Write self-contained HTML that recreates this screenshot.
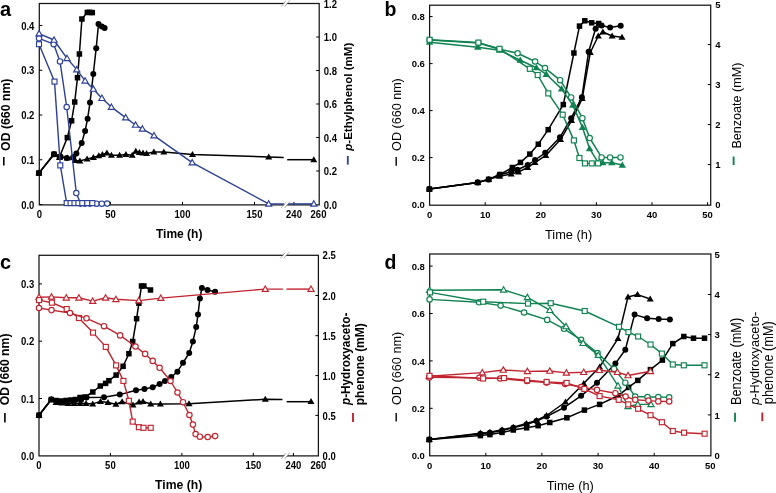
<!DOCTYPE html>
<html><head><meta charset="utf-8"><style>
html,body{margin:0;padding:0;background:#fff;width:776px;height:493px;overflow:hidden}
svg{display:block;will-change:transform}
text{font-family:"Liberation Sans",sans-serif}
</style></head><body>
<svg width="776" height="493" viewBox="0 0 776 493" font-family="Liberation Sans, sans-serif">
<rect width="776" height="493" fill="#fff"/>
<rect x="39.3" y="3.5" width="279.9" height="201.4" fill="none" stroke="#151515" stroke-width="1.25"/>
<line x1="39.3" y1="204.5" x2="42.3" y2="204.5" stroke="#000" stroke-width="1"/>
<line x1="39.3" y1="159.75" x2="42.3" y2="159.75" stroke="#000" stroke-width="1"/>
<line x1="39.3" y1="115" x2="42.3" y2="115" stroke="#000" stroke-width="1"/>
<line x1="39.3" y1="70.25" x2="42.3" y2="70.25" stroke="#000" stroke-width="1"/>
<line x1="39.3" y1="25.5" x2="42.3" y2="25.5" stroke="#000" stroke-width="1"/>
<line x1="316.2" y1="171" x2="319.2" y2="171" stroke="#000" stroke-width="1"/>
<line x1="316.2" y1="137.5" x2="319.2" y2="137.5" stroke="#000" stroke-width="1"/>
<line x1="316.2" y1="104" x2="319.2" y2="104" stroke="#000" stroke-width="1"/>
<line x1="316.2" y1="70.5" x2="319.2" y2="70.5" stroke="#000" stroke-width="1"/>
<line x1="316.2" y1="37" x2="319.2" y2="37" stroke="#000" stroke-width="1"/>
<line x1="110.5" y1="201.9" x2="110.5" y2="204.9" stroke="#000" stroke-width="1"/>
<line x1="182.5" y1="201.9" x2="182.5" y2="204.9" stroke="#000" stroke-width="1"/>
<line x1="254.5" y1="201.9" x2="254.5" y2="204.9" stroke="#000" stroke-width="1"/>
<line x1="294" y1="201.9" x2="294" y2="204.9" stroke="#000" stroke-width="1"/>
<polyline points="38.9,173.1 54,154.2 59.5,157.5 67.2,158 75.3,160.5 79.9,161 87.1,158.9 93.4,157.4 98.8,155.8 102.4,154.4 106.9,152.9 111.4,155.3 119.6,155.3 125.9,154.4 132.2,155.3 135.8,151.3 139.4,152.6 143,152.9 146.6,153.5 153.9,152 163.8,152 192.5,154.5 268.7,157 283.7,157.5" fill="none" stroke="#000" stroke-width="1.5" stroke-linejoin="round"/>
<polyline points="287.2,159.7 313.8,159.7" fill="none" stroke="#000" stroke-width="1.5" stroke-linejoin="round"/>
<polygon points="38.9,169.62 42.4,175.62 35.4,175.62" fill="#000"/>
<polygon points="54,150.72 57.5,156.72 50.5,156.72" fill="#000"/>
<polygon points="59.5,154.02 63,160.02 56,160.02" fill="#000"/>
<polygon points="67.2,154.52 70.7,160.52 63.7,160.52" fill="#000"/>
<polygon points="75.3,157.02 78.8,163.02 71.8,163.02" fill="#000"/>
<polygon points="79.9,157.52 83.4,163.52 76.4,163.52" fill="#000"/>
<polygon points="87.1,155.42 90.6,161.42 83.6,161.42" fill="#000"/>
<polygon points="93.4,153.92 96.9,159.92 89.9,159.92" fill="#000"/>
<polygon points="98.8,152.32 102.3,158.32 95.3,158.32" fill="#000"/>
<polygon points="102.4,150.92 105.9,156.92 98.9,156.92" fill="#000"/>
<polygon points="106.9,149.42 110.4,155.42 103.4,155.42" fill="#000"/>
<polygon points="111.4,151.82 114.9,157.82 107.9,157.82" fill="#000"/>
<polygon points="119.6,151.82 123.1,157.82 116.1,157.82" fill="#000"/>
<polygon points="125.9,150.92 129.4,156.92 122.4,156.92" fill="#000"/>
<polygon points="132.2,151.82 135.7,157.82 128.7,157.82" fill="#000"/>
<polygon points="135.8,147.82 139.3,153.82 132.3,153.82" fill="#000"/>
<polygon points="139.4,149.12 142.9,155.12 135.9,155.12" fill="#000"/>
<polygon points="143,149.42 146.5,155.42 139.5,155.42" fill="#000"/>
<polygon points="146.6,150.02 150.1,156.02 143.1,156.02" fill="#000"/>
<polygon points="153.9,148.52 157.4,154.52 150.4,154.52" fill="#000"/>
<polygon points="163.8,148.52 167.3,154.52 160.3,154.52" fill="#000"/>
<polygon points="192.5,151.02 196,157.02 189,157.02" fill="#000"/>
<polygon points="268.7,153.52 272.2,159.52 265.2,159.52" fill="#000"/>
<polygon points="313.8,156.22 317.3,162.22 310.3,162.22" fill="#000"/>
<polyline points="38.9,173.1 54,154.2 60.5,156.5 66.8,158 73.3,157 76.4,153.6 81.7,142.9 85.1,131 87.6,118.7 90,102.6 93.3,74 96.2,48.2 98.5,24 101.9,26.5 104.6,27.9" fill="none" stroke="#000" stroke-width="1.5" stroke-linejoin="round"/>
<circle cx="38.9" cy="173.1" r="3" fill="#000"/>
<circle cx="54" cy="154.2" r="3" fill="#000"/>
<circle cx="60.5" cy="156.5" r="3" fill="#000"/>
<circle cx="66.8" cy="158" r="3" fill="#000"/>
<circle cx="73.3" cy="157" r="3" fill="#000"/>
<circle cx="76.4" cy="153.6" r="3" fill="#000"/>
<circle cx="81.7" cy="142.9" r="3" fill="#000"/>
<circle cx="85.1" cy="131" r="3" fill="#000"/>
<circle cx="87.6" cy="118.7" r="3" fill="#000"/>
<circle cx="90" cy="102.6" r="3" fill="#000"/>
<circle cx="93.3" cy="74" r="3" fill="#000"/>
<circle cx="96.2" cy="48.2" r="3" fill="#000"/>
<circle cx="98.5" cy="24" r="3" fill="#000"/>
<circle cx="101.9" cy="26.5" r="3" fill="#000"/>
<circle cx="104.6" cy="27.9" r="3" fill="#000"/>
<polyline points="38.9,173.1 54,154.2 59.5,157 67.3,137.6 71.6,120.8 74.7,102 77.5,77.7 79.4,54 81.9,19 87.3,12.4 89.8,12.4 92.3,12.6" fill="none" stroke="#000" stroke-width="1.5" stroke-linejoin="round"/>
<rect x="36.15" y="170.35" width="5.5" height="5.5" fill="#000"/>
<rect x="51.25" y="151.45" width="5.5" height="5.5" fill="#000"/>
<rect x="56.75" y="154.25" width="5.5" height="5.5" fill="#000"/>
<rect x="64.55" y="134.85" width="5.5" height="5.5" fill="#000"/>
<rect x="68.85" y="118.05" width="5.5" height="5.5" fill="#000"/>
<rect x="71.95" y="99.25" width="5.5" height="5.5" fill="#000"/>
<rect x="74.75" y="74.95" width="5.5" height="5.5" fill="#000"/>
<rect x="76.65" y="51.25" width="5.5" height="5.5" fill="#000"/>
<rect x="79.15" y="16.25" width="5.5" height="5.5" fill="#000"/>
<rect x="84.55" y="9.65" width="5.5" height="5.5" fill="#000"/>
<rect x="87.05" y="9.65" width="5.5" height="5.5" fill="#000"/>
<rect x="89.55" y="9.85" width="5.5" height="5.5" fill="#000"/>
<polyline points="39,38.3 53.7,44.2 60,61.4 66.7,107 76.3,193 80.5,203.6 85,203.6 90,203.6 96.5,203.7 101.8,203.7 107.2,203.6" fill="none" stroke="#2c4098" stroke-width="1.4" stroke-linejoin="round"/>
<circle cx="39" cy="38.3" r="2.7" fill="#fff" stroke="#2c4098" stroke-width="1.15"/>
<circle cx="53.7" cy="44.2" r="2.7" fill="#fff" stroke="#2c4098" stroke-width="1.15"/>
<circle cx="60" cy="61.4" r="2.7" fill="#fff" stroke="#2c4098" stroke-width="1.15"/>
<circle cx="66.7" cy="107" r="2.7" fill="#fff" stroke="#2c4098" stroke-width="1.15"/>
<circle cx="76.3" cy="193" r="2.7" fill="#fff" stroke="#2c4098" stroke-width="1.15"/>
<circle cx="80.5" cy="203.6" r="2.7" fill="#fff" stroke="#2c4098" stroke-width="1.15"/>
<circle cx="85" cy="203.6" r="2.7" fill="#fff" stroke="#2c4098" stroke-width="1.15"/>
<circle cx="90" cy="203.6" r="2.7" fill="#fff" stroke="#2c4098" stroke-width="1.15"/>
<circle cx="96.5" cy="203.7" r="2.7" fill="#fff" stroke="#2c4098" stroke-width="1.15"/>
<circle cx="101.8" cy="203.7" r="2.7" fill="#fff" stroke="#2c4098" stroke-width="1.15"/>
<circle cx="107.2" cy="203.6" r="2.7" fill="#fff" stroke="#2c4098" stroke-width="1.15"/>
<polyline points="39,44.2 54.5,81.6 60.3,165.4 66.7,203.1 70.6,203.1 74.5,203.1 78.4,203.1 82.3,203.1 87.3,203.1 92.3,203.1" fill="none" stroke="#2c4098" stroke-width="1.4" stroke-linejoin="round"/>
<rect x="36.5" y="41.7" width="5" height="5" fill="#fff" stroke="#2c4098" stroke-width="1.15"/>
<rect x="52" y="79.1" width="5" height="5" fill="#fff" stroke="#2c4098" stroke-width="1.15"/>
<rect x="57.8" y="162.9" width="5" height="5" fill="#fff" stroke="#2c4098" stroke-width="1.15"/>
<rect x="64.2" y="200.6" width="5" height="5" fill="#fff" stroke="#2c4098" stroke-width="1.15"/>
<rect x="68.1" y="200.6" width="5" height="5" fill="#fff" stroke="#2c4098" stroke-width="1.15"/>
<rect x="72" y="200.6" width="5" height="5" fill="#fff" stroke="#2c4098" stroke-width="1.15"/>
<rect x="75.9" y="200.6" width="5" height="5" fill="#fff" stroke="#2c4098" stroke-width="1.15"/>
<rect x="79.8" y="200.6" width="5" height="5" fill="#fff" stroke="#2c4098" stroke-width="1.15"/>
<rect x="84.8" y="200.6" width="5" height="5" fill="#fff" stroke="#2c4098" stroke-width="1.15"/>
<rect x="89.8" y="200.6" width="5" height="5" fill="#fff" stroke="#2c4098" stroke-width="1.15"/>
<polyline points="39.1,33.6 54,40 67,58.3 76.8,69.6 85.1,80.8 93.3,89 101.9,98.2 111.4,107.1 125.7,117.6 135.5,125 142.4,128.9 154,135.6 192.2,162.6 268.7,203.9 283.9,203.9" fill="none" stroke="#2c4098" stroke-width="1.4" stroke-linejoin="round"/>
<polyline points="287.5,203.9 313.8,203.9" fill="none" stroke="#2c4098" stroke-width="1.4" stroke-linejoin="round"/>
<polygon points="39.1,30.47 42.2,35.87 36,35.87" fill="#fff" stroke="#2c4098" stroke-width="1.15" stroke-linejoin="miter"/>
<polygon points="54,36.87 57.1,42.27 50.9,42.27" fill="#fff" stroke="#2c4098" stroke-width="1.15" stroke-linejoin="miter"/>
<polygon points="67,55.17 70.1,60.57 63.9,60.57" fill="#fff" stroke="#2c4098" stroke-width="1.15" stroke-linejoin="miter"/>
<polygon points="76.8,66.47 79.9,71.87 73.7,71.87" fill="#fff" stroke="#2c4098" stroke-width="1.15" stroke-linejoin="miter"/>
<polygon points="85.1,77.67 88.2,83.07 82,83.07" fill="#fff" stroke="#2c4098" stroke-width="1.15" stroke-linejoin="miter"/>
<polygon points="93.3,85.87 96.4,91.27 90.2,91.27" fill="#fff" stroke="#2c4098" stroke-width="1.15" stroke-linejoin="miter"/>
<polygon points="101.9,95.07 105,100.47 98.8,100.47" fill="#fff" stroke="#2c4098" stroke-width="1.15" stroke-linejoin="miter"/>
<polygon points="111.4,103.97 114.5,109.37 108.3,109.37" fill="#fff" stroke="#2c4098" stroke-width="1.15" stroke-linejoin="miter"/>
<polygon points="125.7,114.47 128.8,119.87 122.6,119.87" fill="#fff" stroke="#2c4098" stroke-width="1.15" stroke-linejoin="miter"/>
<polygon points="135.5,121.87 138.6,127.27 132.4,127.27" fill="#fff" stroke="#2c4098" stroke-width="1.15" stroke-linejoin="miter"/>
<polygon points="142.4,125.77 145.5,131.17 139.3,131.17" fill="#fff" stroke="#2c4098" stroke-width="1.15" stroke-linejoin="miter"/>
<polygon points="154,132.47 157.1,137.87 150.9,137.87" fill="#fff" stroke="#2c4098" stroke-width="1.15" stroke-linejoin="miter"/>
<polygon points="192.2,159.47 195.3,164.87 189.1,164.87" fill="#fff" stroke="#2c4098" stroke-width="1.15" stroke-linejoin="miter"/>
<polygon points="268.7,200.77 271.8,206.17 265.6,206.17" fill="#fff" stroke="#2c4098" stroke-width="1.15" stroke-linejoin="miter"/>
<polygon points="313.8,200.77 316.9,206.17 310.7,206.17" fill="#fff" stroke="#2c4098" stroke-width="1.15" stroke-linejoin="miter"/>
<polygon points="282.1,6 286.1,1 288.9,1 284.9,6" fill="#fff"/>
<line x1="281.1" y1="6.5" x2="285.9" y2="0.9" stroke="#888" stroke-width="0.7"/>
<line x1="284.7" y1="6.5" x2="289.9" y2="0.3" stroke="#888" stroke-width="0.7"/>
<polygon points="282.1,207.4 286.1,202.4 288.9,202.4 284.9,207.4" fill="#fff"/>
<line x1="281.1" y1="207.9" x2="285.9" y2="202.3" stroke="#888" stroke-width="0.7"/>
<line x1="284.7" y1="207.9" x2="289.9" y2="201.7" stroke="#888" stroke-width="0.7"/>
<rect x="429.6" y="5.2" width="281.1" height="200" fill="none" stroke="#151515" stroke-width="1.25"/>
<line x1="429.6" y1="157.6" x2="432.6" y2="157.6" stroke="#000" stroke-width="1"/>
<line x1="429.6" y1="110.6" x2="432.6" y2="110.6" stroke="#000" stroke-width="1"/>
<line x1="429.6" y1="63.6" x2="432.6" y2="63.6" stroke="#000" stroke-width="1"/>
<line x1="429.6" y1="16.6" x2="432.6" y2="16.6" stroke="#000" stroke-width="1"/>
<line x1="707.7" y1="164.6" x2="710.7" y2="164.6" stroke="#000" stroke-width="1"/>
<line x1="707.7" y1="124.6" x2="710.7" y2="124.6" stroke="#000" stroke-width="1"/>
<line x1="707.7" y1="84.6" x2="710.7" y2="84.6" stroke="#000" stroke-width="1"/>
<line x1="707.7" y1="44.6" x2="710.7" y2="44.6" stroke="#000" stroke-width="1"/>
<line x1="485.2" y1="202.2" x2="485.2" y2="205.2" stroke="#000" stroke-width="1"/>
<line x1="540.8" y1="202.2" x2="540.8" y2="205.2" stroke="#000" stroke-width="1"/>
<line x1="596.4" y1="202.2" x2="596.4" y2="205.2" stroke="#000" stroke-width="1"/>
<line x1="652" y1="202.2" x2="652" y2="205.2" stroke="#000" stroke-width="1"/>
<line x1="707.6" y1="202.2" x2="707.6" y2="205.2" stroke="#000" stroke-width="1"/>
<polyline points="429.4,189.1 477.7,182.5 488.6,179.4 499.5,176.3 511.2,174 518.5,172 527.7,167.4 535,162.6 545.8,155.4 560.5,139.6 571.6,120.6 582.2,98.6 590.3,52.5 598.3,36 602.9,32 612.1,36 622,37.3" fill="none" stroke="#000" stroke-width="1.5" stroke-linejoin="round"/>
<polygon points="429.4,185.62 432.9,191.62 425.9,191.62" fill="#000"/>
<polygon points="477.7,179.02 481.2,185.02 474.2,185.02" fill="#000"/>
<polygon points="488.6,175.92 492.1,181.92 485.1,181.92" fill="#000"/>
<polygon points="499.5,172.82 503,178.82 496,178.82" fill="#000"/>
<polygon points="511.2,170.52 514.7,176.52 507.7,176.52" fill="#000"/>
<polygon points="518.5,168.52 522,174.52 515,174.52" fill="#000"/>
<polygon points="527.7,163.92 531.2,169.92 524.2,169.92" fill="#000"/>
<polygon points="535,159.12 538.5,165.12 531.5,165.12" fill="#000"/>
<polygon points="545.8,151.92 549.3,157.92 542.3,157.92" fill="#000"/>
<polygon points="560.5,136.12 564,142.12 557,142.12" fill="#000"/>
<polygon points="571.6,117.12 575.1,123.12 568.1,123.12" fill="#000"/>
<polygon points="582.2,95.12 585.7,101.12 578.7,101.12" fill="#000"/>
<polygon points="590.3,49.02 593.8,55.02 586.8,55.02" fill="#000"/>
<polygon points="598.3,32.52 601.8,38.52 594.8,38.52" fill="#000"/>
<polygon points="602.9,28.52 606.4,34.52 599.4,34.52" fill="#000"/>
<polygon points="612.1,32.52 615.6,38.52 608.6,38.52" fill="#000"/>
<polygon points="622,33.82 625.5,39.82 618.5,39.82" fill="#000"/>
<polyline points="429.4,189.1 477.7,182.5 488.6,179.4 499.5,174.8 511.2,171.8 517.4,169.8 527.7,165 535,160 545.2,152.8 560,137.2 571.2,118.2 581.9,97.2 588.6,51.8 595.6,28.7 601.6,25.4 610.1,27.4 620.7,25.8" fill="none" stroke="#000" stroke-width="1.5" stroke-linejoin="round"/>
<circle cx="429.4" cy="189.1" r="3" fill="#000"/>
<circle cx="477.7" cy="182.5" r="3" fill="#000"/>
<circle cx="488.6" cy="179.4" r="3" fill="#000"/>
<circle cx="499.5" cy="174.8" r="3" fill="#000"/>
<circle cx="511.2" cy="171.8" r="3" fill="#000"/>
<circle cx="517.4" cy="169.8" r="3" fill="#000"/>
<circle cx="527.7" cy="165" r="3" fill="#000"/>
<circle cx="535" cy="160" r="3" fill="#000"/>
<circle cx="545.2" cy="152.8" r="3" fill="#000"/>
<circle cx="560" cy="137.2" r="3" fill="#000"/>
<circle cx="571.2" cy="118.2" r="3" fill="#000"/>
<circle cx="581.9" cy="97.2" r="3" fill="#000"/>
<circle cx="588.6" cy="51.8" r="3" fill="#000"/>
<circle cx="595.6" cy="28.7" r="3" fill="#000"/>
<circle cx="601.6" cy="25.4" r="3" fill="#000"/>
<circle cx="610.1" cy="27.4" r="3" fill="#000"/>
<circle cx="620.7" cy="25.8" r="3" fill="#000"/>
<polyline points="429.4,189.1 477.7,182.5 488.6,179.4 500,174.5 512.3,167.5 520.5,162.4 529.8,154.1 538.3,144.2 548.2,129.7 563.3,104.6 573.9,53 579.5,26.1 584.8,20.8 591.7,22.8 598.7,23.5" fill="none" stroke="#000" stroke-width="1.5" stroke-linejoin="round"/>
<rect x="426.65" y="186.35" width="5.5" height="5.5" fill="#000"/>
<rect x="474.95" y="179.75" width="5.5" height="5.5" fill="#000"/>
<rect x="485.85" y="176.65" width="5.5" height="5.5" fill="#000"/>
<rect x="497.25" y="171.75" width="5.5" height="5.5" fill="#000"/>
<rect x="509.55" y="164.75" width="5.5" height="5.5" fill="#000"/>
<rect x="517.75" y="159.65" width="5.5" height="5.5" fill="#000"/>
<rect x="527.05" y="151.35" width="5.5" height="5.5" fill="#000"/>
<rect x="535.55" y="141.45" width="5.5" height="5.5" fill="#000"/>
<rect x="545.45" y="126.95" width="5.5" height="5.5" fill="#000"/>
<rect x="560.55" y="101.85" width="5.5" height="5.5" fill="#000"/>
<rect x="571.15" y="50.25" width="5.5" height="5.5" fill="#000"/>
<rect x="576.75" y="23.35" width="5.5" height="5.5" fill="#000"/>
<rect x="582.05" y="18.05" width="5.5" height="5.5" fill="#000"/>
<rect x="588.95" y="20.05" width="5.5" height="5.5" fill="#000"/>
<rect x="595.95" y="20.75" width="5.5" height="5.5" fill="#000"/>
<polyline points="429.6,40 478.4,43 499.5,49.2 517.6,53.3 535.1,61.5 545,68.1 560.1,80.2 571.1,97.4 582.4,118.2 589.7,138 601.6,157.4 610.1,157.4 620.5,157.4" fill="none" stroke="#0e8250" stroke-width="1.5" stroke-linejoin="round"/>
<circle cx="429.6" cy="40" r="2.7" fill="#fff" stroke="#0e8250" stroke-width="1.15"/>
<circle cx="478.4" cy="43" r="2.7" fill="#fff" stroke="#0e8250" stroke-width="1.15"/>
<circle cx="499.5" cy="49.2" r="2.7" fill="#fff" stroke="#0e8250" stroke-width="1.15"/>
<circle cx="517.6" cy="53.3" r="2.7" fill="#fff" stroke="#0e8250" stroke-width="1.15"/>
<circle cx="535.1" cy="61.5" r="2.7" fill="#fff" stroke="#0e8250" stroke-width="1.15"/>
<circle cx="545" cy="68.1" r="2.7" fill="#fff" stroke="#0e8250" stroke-width="1.15"/>
<circle cx="560.1" cy="80.2" r="2.7" fill="#fff" stroke="#0e8250" stroke-width="1.15"/>
<circle cx="571.1" cy="97.4" r="2.7" fill="#fff" stroke="#0e8250" stroke-width="1.15"/>
<circle cx="582.4" cy="118.2" r="2.7" fill="#fff" stroke="#0e8250" stroke-width="1.15"/>
<circle cx="589.7" cy="138" r="2.7" fill="#fff" stroke="#0e8250" stroke-width="1.15"/>
<circle cx="601.6" cy="157.4" r="2.7" fill="#fff" stroke="#0e8250" stroke-width="1.15"/>
<circle cx="610.1" cy="157.4" r="2.7" fill="#fff" stroke="#0e8250" stroke-width="1.15"/>
<circle cx="620.5" cy="157.4" r="2.7" fill="#fff" stroke="#0e8250" stroke-width="1.15"/>
<polyline points="429.6,42.2 477.8,47.2 499.5,50.2 520.3,60.2 536.4,67.7 546.3,74.3 561.6,88.9 572.8,105.1 582.5,127.4 589.6,148.6 598.4,162.8 602.7,162.7 611.8,162.7 622.3,165.1" fill="none" stroke="#0e8250" stroke-width="1.5" stroke-linejoin="round"/>
<polygon points="429.6,38.51 433.31,44.87 425.89,44.87" fill="#0e8250"/>
<polygon points="477.8,43.51 481.51,49.87 474.09,49.87" fill="#0e8250"/>
<polygon points="499.5,46.51 503.21,52.87 495.79,52.87" fill="#0e8250"/>
<polygon points="520.3,56.51 524.01,62.87 516.59,62.87" fill="#0e8250"/>
<polygon points="536.4,64.01 540.11,70.37 532.69,70.37" fill="#0e8250"/>
<polygon points="546.3,70.61 550.01,76.97 542.59,76.97" fill="#0e8250"/>
<polygon points="561.6,85.21 565.31,91.57 557.89,91.57" fill="#0e8250"/>
<polygon points="572.8,101.41 576.51,107.77 569.09,107.77" fill="#0e8250"/>
<polygon points="582.5,123.71 586.21,130.07 578.79,130.07" fill="#0e8250"/>
<polygon points="589.6,144.91 593.31,151.27 585.89,151.27" fill="#0e8250"/>
<polygon points="598.4,159.11 602.11,165.47 594.69,165.47" fill="#0e8250"/>
<polygon points="602.7,159.01 606.41,165.37 598.99,165.37" fill="#0e8250"/>
<polygon points="611.8,159.01 615.51,165.37 608.09,165.37" fill="#0e8250"/>
<polygon points="622.3,161.41 626.01,167.77 618.59,167.77" fill="#0e8250"/>
<polyline points="429.6,39.8 478.4,42.6 499.5,48.8 529.8,68.8 537.7,75 548.3,93.4 562.7,114.7 573.9,140.4 579.4,158 584.9,163.4 591.7,163.4 598,163.4" fill="none" stroke="#0e8250" stroke-width="1.5" stroke-linejoin="round"/>
<rect x="427.1" y="37.3" width="5" height="5" fill="#fff" stroke="#0e8250" stroke-width="1.15"/>
<rect x="475.9" y="40.1" width="5" height="5" fill="#fff" stroke="#0e8250" stroke-width="1.15"/>
<rect x="497" y="46.3" width="5" height="5" fill="#fff" stroke="#0e8250" stroke-width="1.15"/>
<rect x="527.3" y="66.3" width="5" height="5" fill="#fff" stroke="#0e8250" stroke-width="1.15"/>
<rect x="535.2" y="72.5" width="5" height="5" fill="#fff" stroke="#0e8250" stroke-width="1.15"/>
<rect x="545.8" y="90.9" width="5" height="5" fill="#fff" stroke="#0e8250" stroke-width="1.15"/>
<rect x="560.2" y="112.2" width="5" height="5" fill="#fff" stroke="#0e8250" stroke-width="1.15"/>
<rect x="571.4" y="137.9" width="5" height="5" fill="#fff" stroke="#0e8250" stroke-width="1.15"/>
<rect x="576.9" y="155.5" width="5" height="5" fill="#fff" stroke="#0e8250" stroke-width="1.15"/>
<rect x="582.4" y="160.9" width="5" height="5" fill="#fff" stroke="#0e8250" stroke-width="1.15"/>
<rect x="589.2" y="160.9" width="5" height="5" fill="#fff" stroke="#0e8250" stroke-width="1.15"/>
<rect x="595.5" y="160.9" width="5" height="5" fill="#fff" stroke="#0e8250" stroke-width="1.15"/>
<rect x="39" y="255.3" width="279.4" height="200.6" fill="none" stroke="#151515" stroke-width="1.25"/>
<line x1="39" y1="398.5" x2="42" y2="398.5" stroke="#000" stroke-width="1"/>
<line x1="39" y1="341.2" x2="42" y2="341.2" stroke="#000" stroke-width="1"/>
<line x1="39" y1="283.9" x2="42" y2="283.9" stroke="#000" stroke-width="1"/>
<line x1="315.4" y1="415.4" x2="318.4" y2="415.4" stroke="#000" stroke-width="1"/>
<line x1="315.4" y1="375.6" x2="318.4" y2="375.6" stroke="#000" stroke-width="1"/>
<line x1="315.4" y1="335.7" x2="318.4" y2="335.7" stroke="#000" stroke-width="1"/>
<line x1="315.4" y1="295.5" x2="318.4" y2="295.5" stroke="#000" stroke-width="1"/>
<line x1="110.4" y1="452.9" x2="110.4" y2="455.9" stroke="#000" stroke-width="1"/>
<line x1="181.9" y1="452.9" x2="181.9" y2="455.9" stroke="#000" stroke-width="1"/>
<line x1="253.3" y1="452.9" x2="253.3" y2="455.9" stroke="#000" stroke-width="1"/>
<line x1="293.4" y1="452.9" x2="293.4" y2="455.9" stroke="#000" stroke-width="1"/>
<polyline points="39,415.3 51.3,399.5 56,402.5 62,403 68,403.5 74,403.5 80,403.5 86,403.5 92.7,403.9 100.5,401.4 108,402.6 115.9,404.3 122.1,401.7 133,405 139.1,401.9 143,401.5 150.7,404 160.4,404 189,403.7 265.3,399.3 282.4,399.6" fill="none" stroke="#000" stroke-width="1.5" stroke-linejoin="round"/>
<polyline points="286.6,401.7 311,401.7" fill="none" stroke="#000" stroke-width="1.5" stroke-linejoin="round"/>
<polygon points="39,411.82 42.5,417.82 35.5,417.82" fill="#000"/>
<polygon points="51.3,396.02 54.8,402.02 47.8,402.02" fill="#000"/>
<polygon points="56,399.02 59.5,405.02 52.5,405.02" fill="#000"/>
<polygon points="62,399.52 65.5,405.52 58.5,405.52" fill="#000"/>
<polygon points="68,400.02 71.5,406.02 64.5,406.02" fill="#000"/>
<polygon points="74,400.02 77.5,406.02 70.5,406.02" fill="#000"/>
<polygon points="80,400.02 83.5,406.02 76.5,406.02" fill="#000"/>
<polygon points="86,400.02 89.5,406.02 82.5,406.02" fill="#000"/>
<polygon points="92.7,400.42 96.2,406.42 89.2,406.42" fill="#000"/>
<polygon points="100.5,397.92 104,403.92 97,403.92" fill="#000"/>
<polygon points="108,399.12 111.5,405.12 104.5,405.12" fill="#000"/>
<polygon points="115.9,400.82 119.4,406.82 112.4,406.82" fill="#000"/>
<polygon points="122.1,398.22 125.6,404.22 118.6,404.22" fill="#000"/>
<polygon points="133,401.52 136.5,407.52 129.5,407.52" fill="#000"/>
<polygon points="139.1,398.42 142.6,404.42 135.6,404.42" fill="#000"/>
<polygon points="143,398.02 146.5,404.02 139.5,404.02" fill="#000"/>
<polygon points="150.7,400.52 154.2,406.52 147.2,406.52" fill="#000"/>
<polygon points="160.4,400.52 163.9,406.52 156.9,406.52" fill="#000"/>
<polygon points="189,400.22 192.5,406.22 185.5,406.22" fill="#000"/>
<polygon points="265.3,395.82 268.8,401.82 261.8,401.82" fill="#000"/>
<polygon points="311,398.12 314.5,404.12 307.5,404.12" fill="#000"/>
<polyline points="39,415.3 51.3,399.5 58,401.5 66,401.8 74,401.3 81,400 86.5,397.5 104,397.3 119.8,394.6 136,390.3 144.5,389 152.7,387.3 159.6,384 165,381 171.2,377 177.4,371.7 183,362.8 189.2,353 192.9,341.4 196.2,327.1 198,314.5 199.9,298.5 201.9,288 207.5,290 215.1,291.7" fill="none" stroke="#000" stroke-width="1.5" stroke-linejoin="round"/>
<circle cx="39" cy="415.3" r="3" fill="#000"/>
<circle cx="51.3" cy="399.5" r="3" fill="#000"/>
<circle cx="58" cy="401.5" r="3" fill="#000"/>
<circle cx="66" cy="401.8" r="3" fill="#000"/>
<circle cx="74" cy="401.3" r="3" fill="#000"/>
<circle cx="81" cy="400" r="3" fill="#000"/>
<circle cx="86.5" cy="397.5" r="3" fill="#000"/>
<circle cx="104" cy="397.3" r="3" fill="#000"/>
<circle cx="119.8" cy="394.6" r="3" fill="#000"/>
<circle cx="136" cy="390.3" r="3" fill="#000"/>
<circle cx="144.5" cy="389" r="3" fill="#000"/>
<circle cx="152.7" cy="387.3" r="3" fill="#000"/>
<circle cx="159.6" cy="384" r="3" fill="#000"/>
<circle cx="165" cy="381" r="3" fill="#000"/>
<circle cx="171.2" cy="377" r="3" fill="#000"/>
<circle cx="177.4" cy="371.7" r="3" fill="#000"/>
<circle cx="183" cy="362.8" r="3" fill="#000"/>
<circle cx="189.2" cy="353" r="3" fill="#000"/>
<circle cx="192.9" cy="341.4" r="3" fill="#000"/>
<circle cx="196.2" cy="327.1" r="3" fill="#000"/>
<circle cx="198" cy="314.5" r="3" fill="#000"/>
<circle cx="199.9" cy="298.5" r="3" fill="#000"/>
<circle cx="201.9" cy="288" r="3" fill="#000"/>
<circle cx="207.5" cy="290" r="3" fill="#000"/>
<circle cx="215.1" cy="291.7" r="3" fill="#000"/>
<polyline points="39,415.3 51.3,399.5 56,400.5 61,401 66,400.5 71,400 75.5,399.5 80,397.5 85,397 92.8,392 100.3,386 105.6,383.4 108.9,380.7 116.1,375.1 123.1,366.3 128.9,353.7 132.7,341.5 136.6,318.7 138.9,303.2 141.5,286 143.9,286 150.5,290" fill="none" stroke="#000" stroke-width="1.5" stroke-linejoin="round"/>
<rect x="36.25" y="412.55" width="5.5" height="5.5" fill="#000"/>
<rect x="48.55" y="396.75" width="5.5" height="5.5" fill="#000"/>
<rect x="53.25" y="397.75" width="5.5" height="5.5" fill="#000"/>
<rect x="58.25" y="398.25" width="5.5" height="5.5" fill="#000"/>
<rect x="63.25" y="397.75" width="5.5" height="5.5" fill="#000"/>
<rect x="68.25" y="397.25" width="5.5" height="5.5" fill="#000"/>
<rect x="72.75" y="396.75" width="5.5" height="5.5" fill="#000"/>
<rect x="77.25" y="394.75" width="5.5" height="5.5" fill="#000"/>
<rect x="82.25" y="394.25" width="5.5" height="5.5" fill="#000"/>
<rect x="90.05" y="389.25" width="5.5" height="5.5" fill="#000"/>
<rect x="97.55" y="383.25" width="5.5" height="5.5" fill="#000"/>
<rect x="102.85" y="380.65" width="5.5" height="5.5" fill="#000"/>
<rect x="106.15" y="377.95" width="5.5" height="5.5" fill="#000"/>
<rect x="113.35" y="372.35" width="5.5" height="5.5" fill="#000"/>
<rect x="120.35" y="363.55" width="5.5" height="5.5" fill="#000"/>
<rect x="126.15" y="350.95" width="5.5" height="5.5" fill="#000"/>
<rect x="129.95" y="338.75" width="5.5" height="5.5" fill="#000"/>
<rect x="133.85" y="315.95" width="5.5" height="5.5" fill="#000"/>
<rect x="136.15" y="300.45" width="5.5" height="5.5" fill="#000"/>
<rect x="138.75" y="283.25" width="5.5" height="5.5" fill="#000"/>
<rect x="141.15" y="283.25" width="5.5" height="5.5" fill="#000"/>
<rect x="147.75" y="287.25" width="5.5" height="5.5" fill="#000"/>
<polyline points="39,297.2 51.5,296.9 66.3,297.8 78.9,297.8 92.7,301.1 105.6,297.8 115.9,299.3 138.8,300.6 160.8,298.1 265.3,289.1 282.9,289.1" fill="none" stroke="#c2242f" stroke-width="1.4" stroke-linejoin="round"/>
<polyline points="286.5,289.1 311,289.1" fill="none" stroke="#c2242f" stroke-width="1.4" stroke-linejoin="round"/>
<polygon points="39,294.07 42.1,299.47 35.9,299.47" fill="#fff" stroke="#c2242f" stroke-width="1.15" stroke-linejoin="miter"/>
<polygon points="51.5,293.77 54.6,299.17 48.4,299.17" fill="#fff" stroke="#c2242f" stroke-width="1.15" stroke-linejoin="miter"/>
<polygon points="66.3,294.67 69.4,300.07 63.2,300.07" fill="#fff" stroke="#c2242f" stroke-width="1.15" stroke-linejoin="miter"/>
<polygon points="78.9,294.67 82,300.07 75.8,300.07" fill="#fff" stroke="#c2242f" stroke-width="1.15" stroke-linejoin="miter"/>
<polygon points="92.7,297.97 95.8,303.37 89.6,303.37" fill="#fff" stroke="#c2242f" stroke-width="1.15" stroke-linejoin="miter"/>
<polygon points="105.6,294.67 108.7,300.07 102.5,300.07" fill="#fff" stroke="#c2242f" stroke-width="1.15" stroke-linejoin="miter"/>
<polygon points="115.9,296.17 119,301.57 112.8,301.57" fill="#fff" stroke="#c2242f" stroke-width="1.15" stroke-linejoin="miter"/>
<polygon points="138.8,297.47 141.9,302.87 135.7,302.87" fill="#fff" stroke="#c2242f" stroke-width="1.15" stroke-linejoin="miter"/>
<polygon points="160.8,294.97 163.9,300.37 157.7,300.37" fill="#fff" stroke="#c2242f" stroke-width="1.15" stroke-linejoin="miter"/>
<polygon points="265.3,285.97 268.4,291.37 262.2,291.37" fill="#fff" stroke="#c2242f" stroke-width="1.15" stroke-linejoin="miter"/>
<polygon points="311,285.97 314.1,291.37 307.9,291.37" fill="#fff" stroke="#c2242f" stroke-width="1.15" stroke-linejoin="miter"/>
<polyline points="39,300.1 51.9,302.7 66.7,309 78.9,318 93,332.6 105.8,346.9 116.1,365.4 123.4,380.9 128.9,400.8 132.7,421.6 138.9,427.2 143.5,427.8 150.7,427.8" fill="none" stroke="#c2242f" stroke-width="1.4" stroke-linejoin="round"/>
<rect x="36.5" y="297.6" width="5" height="5" fill="#fff" stroke="#c2242f" stroke-width="1.15"/>
<rect x="49.4" y="300.2" width="5" height="5" fill="#fff" stroke="#c2242f" stroke-width="1.15"/>
<rect x="64.2" y="306.5" width="5" height="5" fill="#fff" stroke="#c2242f" stroke-width="1.15"/>
<rect x="76.4" y="315.5" width="5" height="5" fill="#fff" stroke="#c2242f" stroke-width="1.15"/>
<rect x="90.5" y="330.1" width="5" height="5" fill="#fff" stroke="#c2242f" stroke-width="1.15"/>
<rect x="103.3" y="344.4" width="5" height="5" fill="#fff" stroke="#c2242f" stroke-width="1.15"/>
<rect x="113.6" y="362.9" width="5" height="5" fill="#fff" stroke="#c2242f" stroke-width="1.15"/>
<rect x="120.9" y="378.4" width="5" height="5" fill="#fff" stroke="#c2242f" stroke-width="1.15"/>
<rect x="126.4" y="398.3" width="5" height="5" fill="#fff" stroke="#c2242f" stroke-width="1.15"/>
<rect x="130.2" y="419.1" width="5" height="5" fill="#fff" stroke="#c2242f" stroke-width="1.15"/>
<rect x="136.4" y="424.7" width="5" height="5" fill="#fff" stroke="#c2242f" stroke-width="1.15"/>
<rect x="141" y="425.3" width="5" height="5" fill="#fff" stroke="#c2242f" stroke-width="1.15"/>
<rect x="148.2" y="425.3" width="5" height="5" fill="#fff" stroke="#c2242f" stroke-width="1.15"/>
<polyline points="39,308 51.5,310.1 70,313 86.5,318.3 104,326.2 120.1,335.4 135.5,346.5 145.1,353.9 152.7,360.9 159.6,367.8 170.5,381 177.5,392.5 183,402.2 189.4,415 192.9,424.6 195.6,434.1 199.9,436.7 207.7,437 215.1,436.1" fill="none" stroke="#c2242f" stroke-width="1.4" stroke-linejoin="round"/>
<circle cx="39" cy="308" r="2.7" fill="#fff" stroke="#c2242f" stroke-width="1.15"/>
<circle cx="51.5" cy="310.1" r="2.7" fill="#fff" stroke="#c2242f" stroke-width="1.15"/>
<circle cx="70" cy="313" r="2.7" fill="#fff" stroke="#c2242f" stroke-width="1.15"/>
<circle cx="86.5" cy="318.3" r="2.7" fill="#fff" stroke="#c2242f" stroke-width="1.15"/>
<circle cx="104" cy="326.2" r="2.7" fill="#fff" stroke="#c2242f" stroke-width="1.15"/>
<circle cx="120.1" cy="335.4" r="2.7" fill="#fff" stroke="#c2242f" stroke-width="1.15"/>
<circle cx="135.5" cy="346.5" r="2.7" fill="#fff" stroke="#c2242f" stroke-width="1.15"/>
<circle cx="145.1" cy="353.9" r="2.7" fill="#fff" stroke="#c2242f" stroke-width="1.15"/>
<circle cx="152.7" cy="360.9" r="2.7" fill="#fff" stroke="#c2242f" stroke-width="1.15"/>
<circle cx="159.6" cy="367.8" r="2.7" fill="#fff" stroke="#c2242f" stroke-width="1.15"/>
<circle cx="170.5" cy="381" r="2.7" fill="#fff" stroke="#c2242f" stroke-width="1.15"/>
<circle cx="177.5" cy="392.5" r="2.7" fill="#fff" stroke="#c2242f" stroke-width="1.15"/>
<circle cx="183" cy="402.2" r="2.7" fill="#fff" stroke="#c2242f" stroke-width="1.15"/>
<circle cx="189.4" cy="415" r="2.7" fill="#fff" stroke="#c2242f" stroke-width="1.15"/>
<circle cx="192.9" cy="424.6" r="2.7" fill="#fff" stroke="#c2242f" stroke-width="1.15"/>
<circle cx="195.6" cy="434.1" r="2.7" fill="#fff" stroke="#c2242f" stroke-width="1.15"/>
<circle cx="199.9" cy="436.7" r="2.7" fill="#fff" stroke="#c2242f" stroke-width="1.15"/>
<circle cx="207.7" cy="437" r="2.7" fill="#fff" stroke="#c2242f" stroke-width="1.15"/>
<circle cx="215.1" cy="436.1" r="2.7" fill="#fff" stroke="#c2242f" stroke-width="1.15"/>
<polygon points="281.3,257.8 285.3,252.8 288.1,252.8 284.1,257.8" fill="#fff"/>
<line x1="280.3" y1="258.3" x2="285.1" y2="252.7" stroke="#888" stroke-width="0.7"/>
<line x1="283.9" y1="258.3" x2="289.1" y2="252.1" stroke="#888" stroke-width="0.7"/>
<polygon points="282.1,458.4 286.1,453.4 288.9,453.4 284.9,458.4" fill="#fff"/>
<line x1="281.1" y1="458.9" x2="285.9" y2="453.3" stroke="#888" stroke-width="0.7"/>
<line x1="284.7" y1="458.9" x2="289.9" y2="452.7" stroke="#888" stroke-width="0.7"/>
<rect x="429.7" y="254" width="281.2" height="201.8" fill="none" stroke="#151515" stroke-width="1.25"/>
<line x1="429.7" y1="408.3" x2="432.7" y2="408.3" stroke="#000" stroke-width="1"/>
<line x1="429.7" y1="360.9" x2="432.7" y2="360.9" stroke="#000" stroke-width="1"/>
<line x1="429.7" y1="313.5" x2="432.7" y2="313.5" stroke="#000" stroke-width="1"/>
<line x1="429.7" y1="266.1" x2="432.7" y2="266.1" stroke="#000" stroke-width="1"/>
<line x1="707.9" y1="414.9" x2="710.9" y2="414.9" stroke="#000" stroke-width="1"/>
<line x1="707.9" y1="374.7" x2="710.9" y2="374.7" stroke="#000" stroke-width="1"/>
<line x1="707.9" y1="334.6" x2="710.9" y2="334.6" stroke="#000" stroke-width="1"/>
<line x1="707.9" y1="294.5" x2="710.9" y2="294.5" stroke="#000" stroke-width="1"/>
<line x1="485.8" y1="452.8" x2="485.8" y2="455.8" stroke="#000" stroke-width="1"/>
<line x1="541.9" y1="452.8" x2="541.9" y2="455.8" stroke="#000" stroke-width="1"/>
<line x1="598.1" y1="452.8" x2="598.1" y2="455.8" stroke="#000" stroke-width="1"/>
<line x1="654.2" y1="452.8" x2="654.2" y2="455.8" stroke="#000" stroke-width="1"/>
<polyline points="429.3,439.6 480.4,435.6 489.9,434.6 502,432.4 513.3,430 526.6,427.8 538.1,425.7 549.8,422.5 566.9,417.8 584.4,410.1 599.6,404.4 618,395.8 628.6,387.4 637.8,380.4 650.4,369.6 662.4,360.1 672.8,343.6 683.8,336.5 693.5,338.2 704.5,338.2" fill="none" stroke="#000" stroke-width="1.5" stroke-linejoin="round"/>
<rect x="426.55" y="436.85" width="5.5" height="5.5" fill="#000"/>
<rect x="477.65" y="432.85" width="5.5" height="5.5" fill="#000"/>
<rect x="487.15" y="431.85" width="5.5" height="5.5" fill="#000"/>
<rect x="499.25" y="429.65" width="5.5" height="5.5" fill="#000"/>
<rect x="510.55" y="427.25" width="5.5" height="5.5" fill="#000"/>
<rect x="523.85" y="425.05" width="5.5" height="5.5" fill="#000"/>
<rect x="535.35" y="422.95" width="5.5" height="5.5" fill="#000"/>
<rect x="547.05" y="419.75" width="5.5" height="5.5" fill="#000"/>
<rect x="564.15" y="415.05" width="5.5" height="5.5" fill="#000"/>
<rect x="581.65" y="407.35" width="5.5" height="5.5" fill="#000"/>
<rect x="596.85" y="401.65" width="5.5" height="5.5" fill="#000"/>
<rect x="615.25" y="393.05" width="5.5" height="5.5" fill="#000"/>
<rect x="625.85" y="384.65" width="5.5" height="5.5" fill="#000"/>
<rect x="635.05" y="377.65" width="5.5" height="5.5" fill="#000"/>
<rect x="647.65" y="366.85" width="5.5" height="5.5" fill="#000"/>
<rect x="659.65" y="357.35" width="5.5" height="5.5" fill="#000"/>
<rect x="670.05" y="340.85" width="5.5" height="5.5" fill="#000"/>
<rect x="681.05" y="333.75" width="5.5" height="5.5" fill="#000"/>
<rect x="690.75" y="335.45" width="5.5" height="5.5" fill="#000"/>
<rect x="701.75" y="335.45" width="5.5" height="5.5" fill="#000"/>
<polyline points="429.3,439.6 480.4,433.8 489.9,432.8 502,430.4 513.3,427.8 526.4,424.5 536.5,421 546.6,416.5 564,407.7 581.1,395.8 597,382.8 615.4,363.6 625.3,349.8 634.6,314.6 647.1,318.2 658.7,319.1 669.9,319.5" fill="none" stroke="#000" stroke-width="1.5" stroke-linejoin="round"/>
<circle cx="429.3" cy="439.6" r="3" fill="#000"/>
<circle cx="480.4" cy="433.8" r="3" fill="#000"/>
<circle cx="489.9" cy="432.8" r="3" fill="#000"/>
<circle cx="502" cy="430.4" r="3" fill="#000"/>
<circle cx="513.3" cy="427.8" r="3" fill="#000"/>
<circle cx="526.4" cy="424.5" r="3" fill="#000"/>
<circle cx="536.5" cy="421" r="3" fill="#000"/>
<circle cx="546.6" cy="416.5" r="3" fill="#000"/>
<circle cx="564" cy="407.7" r="3" fill="#000"/>
<circle cx="581.1" cy="395.8" r="3" fill="#000"/>
<circle cx="597" cy="382.8" r="3" fill="#000"/>
<circle cx="615.4" cy="363.6" r="3" fill="#000"/>
<circle cx="625.3" cy="349.8" r="3" fill="#000"/>
<circle cx="634.6" cy="314.6" r="3" fill="#000"/>
<circle cx="647.1" cy="318.2" r="3" fill="#000"/>
<circle cx="658.7" cy="319.1" r="3" fill="#000"/>
<circle cx="669.9" cy="319.5" r="3" fill="#000"/>
<polyline points="429.3,439.6 480.4,433.2 489.9,432.2 502,429.8 513.3,427.2 526.4,423.5 536.5,420.5 546.6,415.5 565.5,402 583.7,383.4 599.6,367 618,338.6 628,296.9 637.5,294.6 650.2,299" fill="none" stroke="#000" stroke-width="1.5" stroke-linejoin="round"/>
<polygon points="429.3,436.12 432.8,442.12 425.8,442.12" fill="#000"/>
<polygon points="480.4,429.72 483.9,435.72 476.9,435.72" fill="#000"/>
<polygon points="489.9,428.72 493.4,434.72 486.4,434.72" fill="#000"/>
<polygon points="502,426.32 505.5,432.32 498.5,432.32" fill="#000"/>
<polygon points="513.3,423.72 516.8,429.72 509.8,429.72" fill="#000"/>
<polygon points="526.4,420.02 529.9,426.02 522.9,426.02" fill="#000"/>
<polygon points="536.5,417.02 540,423.02 533,423.02" fill="#000"/>
<polygon points="546.6,412.02 550.1,418.02 543.1,418.02" fill="#000"/>
<polygon points="565.5,398.52 569,404.52 562,404.52" fill="#000"/>
<polygon points="583.7,379.92 587.2,385.92 580.2,385.92" fill="#000"/>
<polygon points="599.6,363.52 603.1,369.52 596.1,369.52" fill="#000"/>
<polygon points="618,335.12 621.5,341.12 614.5,341.12" fill="#000"/>
<polygon points="628,293.42 631.5,299.42 624.5,299.42" fill="#000"/>
<polygon points="637.5,291.12 641,297.12 634,297.12" fill="#000"/>
<polygon points="650.2,295.52 653.7,301.52 646.7,301.52" fill="#000"/>
<polyline points="429.6,299.4 479,302.3 500.6,305.6 524.1,312.5 547.2,319.9 564,328.8 581.1,339.9 597.6,353.1 614.1,368.9 625.3,382.7 635.2,396.5 647.5,397 658.3,397 669.2,397.4" fill="none" stroke="#0e8250" stroke-width="1.4" stroke-linejoin="round"/>
<circle cx="429.6" cy="299.4" r="2.7" fill="#fff" stroke="#0e8250" stroke-width="1.15"/>
<circle cx="479" cy="302.3" r="2.7" fill="#fff" stroke="#0e8250" stroke-width="1.15"/>
<circle cx="500.6" cy="305.6" r="2.7" fill="#fff" stroke="#0e8250" stroke-width="1.15"/>
<circle cx="524.1" cy="312.5" r="2.7" fill="#fff" stroke="#0e8250" stroke-width="1.15"/>
<circle cx="547.2" cy="319.9" r="2.7" fill="#fff" stroke="#0e8250" stroke-width="1.15"/>
<circle cx="564" cy="328.8" r="2.7" fill="#fff" stroke="#0e8250" stroke-width="1.15"/>
<circle cx="581.1" cy="339.9" r="2.7" fill="#fff" stroke="#0e8250" stroke-width="1.15"/>
<circle cx="597.6" cy="353.1" r="2.7" fill="#fff" stroke="#0e8250" stroke-width="1.15"/>
<circle cx="614.1" cy="368.9" r="2.7" fill="#fff" stroke="#0e8250" stroke-width="1.15"/>
<circle cx="625.3" cy="382.7" r="2.7" fill="#fff" stroke="#0e8250" stroke-width="1.15"/>
<circle cx="635.2" cy="396.5" r="2.7" fill="#fff" stroke="#0e8250" stroke-width="1.15"/>
<circle cx="647.5" cy="397" r="2.7" fill="#fff" stroke="#0e8250" stroke-width="1.15"/>
<circle cx="658.3" cy="397" r="2.7" fill="#fff" stroke="#0e8250" stroke-width="1.15"/>
<circle cx="669.2" cy="397.4" r="2.7" fill="#fff" stroke="#0e8250" stroke-width="1.15"/>
<polyline points="429.6,290.2 503.6,289.8 527.4,297.4 549.8,310.2 566,326.5 583.1,343.2 598.3,355.1 618,385.8 628,406.4 637.8,404.4 651,404.4" fill="none" stroke="#0e8250" stroke-width="1.4" stroke-linejoin="round"/>
<polygon points="429.6,287.07 432.7,292.47 426.5,292.47" fill="#fff" stroke="#0e8250" stroke-width="1.15" stroke-linejoin="miter"/>
<polygon points="503.6,286.67 506.7,292.07 500.5,292.07" fill="#fff" stroke="#0e8250" stroke-width="1.15" stroke-linejoin="miter"/>
<polygon points="527.4,294.27 530.5,299.67 524.3,299.67" fill="#fff" stroke="#0e8250" stroke-width="1.15" stroke-linejoin="miter"/>
<polygon points="549.8,307.07 552.9,312.47 546.7,312.47" fill="#fff" stroke="#0e8250" stroke-width="1.15" stroke-linejoin="miter"/>
<polygon points="566,323.37 569.1,328.77 562.9,328.77" fill="#fff" stroke="#0e8250" stroke-width="1.15" stroke-linejoin="miter"/>
<polygon points="583.1,340.07 586.2,345.47 580,345.47" fill="#fff" stroke="#0e8250" stroke-width="1.15" stroke-linejoin="miter"/>
<polygon points="598.3,351.97 601.4,357.37 595.2,357.37" fill="#fff" stroke="#0e8250" stroke-width="1.15" stroke-linejoin="miter"/>
<polygon points="618,382.67 621.1,388.07 614.9,388.07" fill="#fff" stroke="#0e8250" stroke-width="1.15" stroke-linejoin="miter"/>
<polygon points="628,403.27 631.1,408.67 624.9,408.67" fill="#fff" stroke="#0e8250" stroke-width="1.15" stroke-linejoin="miter"/>
<polygon points="637.8,401.27 640.9,406.67 634.7,406.67" fill="#fff" stroke="#0e8250" stroke-width="1.15" stroke-linejoin="miter"/>
<polygon points="651,401.27 654.1,406.67 647.9,406.67" fill="#fff" stroke="#0e8250" stroke-width="1.15" stroke-linejoin="miter"/>
<polyline points="430,292.4 483.2,301.7 528,303.6 550.7,303.2 584.7,311 619,326.8 628.4,332.1 638.1,336.5 650.5,344.5 661.9,353.6 672.8,364.5 683.8,365.3 704.5,365.3" fill="none" stroke="#0e8250" stroke-width="1.4" stroke-linejoin="round"/>
<rect x="427.5" y="289.9" width="5" height="5" fill="#fff" stroke="#0e8250" stroke-width="1.15"/>
<rect x="480.7" y="299.2" width="5" height="5" fill="#fff" stroke="#0e8250" stroke-width="1.15"/>
<rect x="525.5" y="301.1" width="5" height="5" fill="#fff" stroke="#0e8250" stroke-width="1.15"/>
<rect x="548.2" y="300.7" width="5" height="5" fill="#fff" stroke="#0e8250" stroke-width="1.15"/>
<rect x="582.2" y="308.5" width="5" height="5" fill="#fff" stroke="#0e8250" stroke-width="1.15"/>
<rect x="616.5" y="324.3" width="5" height="5" fill="#fff" stroke="#0e8250" stroke-width="1.15"/>
<rect x="625.9" y="329.6" width="5" height="5" fill="#fff" stroke="#0e8250" stroke-width="1.15"/>
<rect x="635.6" y="334" width="5" height="5" fill="#fff" stroke="#0e8250" stroke-width="1.15"/>
<rect x="648" y="342" width="5" height="5" fill="#fff" stroke="#0e8250" stroke-width="1.15"/>
<rect x="659.4" y="351.1" width="5" height="5" fill="#fff" stroke="#0e8250" stroke-width="1.15"/>
<rect x="670.3" y="362" width="5" height="5" fill="#fff" stroke="#0e8250" stroke-width="1.15"/>
<rect x="681.3" y="362.8" width="5" height="5" fill="#fff" stroke="#0e8250" stroke-width="1.15"/>
<rect x="702" y="362.8" width="5" height="5" fill="#fff" stroke="#0e8250" stroke-width="1.15"/>
<polyline points="429.2,377.4 479.4,377.7 500.2,378.5 527.1,381 546.6,382.6 565.2,384 581.1,387 597,389.9 615.4,393.2 625.6,396.5 635.2,399.8 648.4,400.6 658.3,401.4 669.2,401.5" fill="none" stroke="#c2242f" stroke-width="1.4" stroke-linejoin="round"/>
<circle cx="429.2" cy="377.4" r="2.7" fill="#fff" stroke="#c2242f" stroke-width="1.15"/>
<circle cx="479.4" cy="377.7" r="2.7" fill="#fff" stroke="#c2242f" stroke-width="1.15"/>
<circle cx="500.2" cy="378.5" r="2.7" fill="#fff" stroke="#c2242f" stroke-width="1.15"/>
<circle cx="527.1" cy="381" r="2.7" fill="#fff" stroke="#c2242f" stroke-width="1.15"/>
<circle cx="546.6" cy="382.6" r="2.7" fill="#fff" stroke="#c2242f" stroke-width="1.15"/>
<circle cx="565.2" cy="384" r="2.7" fill="#fff" stroke="#c2242f" stroke-width="1.15"/>
<circle cx="581.1" cy="387" r="2.7" fill="#fff" stroke="#c2242f" stroke-width="1.15"/>
<circle cx="597" cy="389.9" r="2.7" fill="#fff" stroke="#c2242f" stroke-width="1.15"/>
<circle cx="615.4" cy="393.2" r="2.7" fill="#fff" stroke="#c2242f" stroke-width="1.15"/>
<circle cx="625.6" cy="396.5" r="2.7" fill="#fff" stroke="#c2242f" stroke-width="1.15"/>
<circle cx="635.2" cy="399.8" r="2.7" fill="#fff" stroke="#c2242f" stroke-width="1.15"/>
<circle cx="648.4" cy="400.6" r="2.7" fill="#fff" stroke="#c2242f" stroke-width="1.15"/>
<circle cx="658.3" cy="401.4" r="2.7" fill="#fff" stroke="#c2242f" stroke-width="1.15"/>
<circle cx="669.2" cy="401.5" r="2.7" fill="#fff" stroke="#c2242f" stroke-width="1.15"/>
<polyline points="429.2,376.2 482.3,372.6 503.3,370 527.4,371.4 549.8,371 566.4,372.9 583.7,372.2 599.3,370.2 617.4,372.2 628,375.5 650.5,371.3" fill="none" stroke="#c2242f" stroke-width="1.4" stroke-linejoin="round"/>
<polygon points="429.2,373.07 432.3,378.47 426.1,378.47" fill="#fff" stroke="#c2242f" stroke-width="1.15" stroke-linejoin="miter"/>
<polygon points="482.3,369.47 485.4,374.87 479.2,374.87" fill="#fff" stroke="#c2242f" stroke-width="1.15" stroke-linejoin="miter"/>
<polygon points="503.3,366.87 506.4,372.27 500.2,372.27" fill="#fff" stroke="#c2242f" stroke-width="1.15" stroke-linejoin="miter"/>
<polygon points="527.4,368.27 530.5,373.67 524.3,373.67" fill="#fff" stroke="#c2242f" stroke-width="1.15" stroke-linejoin="miter"/>
<polygon points="549.8,367.87 552.9,373.27 546.7,373.27" fill="#fff" stroke="#c2242f" stroke-width="1.15" stroke-linejoin="miter"/>
<polygon points="566.4,369.77 569.5,375.17 563.3,375.17" fill="#fff" stroke="#c2242f" stroke-width="1.15" stroke-linejoin="miter"/>
<polygon points="583.7,369.07 586.8,374.47 580.6,374.47" fill="#fff" stroke="#c2242f" stroke-width="1.15" stroke-linejoin="miter"/>
<polygon points="599.3,367.07 602.4,372.47 596.2,372.47" fill="#fff" stroke="#c2242f" stroke-width="1.15" stroke-linejoin="miter"/>
<polygon points="617.4,369.07 620.5,374.47 614.3,374.47" fill="#fff" stroke="#c2242f" stroke-width="1.15" stroke-linejoin="miter"/>
<polygon points="628,372.37 631.1,377.77 624.9,377.77" fill="#fff" stroke="#c2242f" stroke-width="1.15" stroke-linejoin="miter"/>
<polygon points="650.5,368.17 653.6,373.57 647.4,373.57" fill="#fff" stroke="#c2242f" stroke-width="1.15" stroke-linejoin="miter"/>
<polyline points="429.5,375.8 483.1,378.5 504,378.1 527.1,380.3 546.6,381.9 566.6,382.9 584.4,389 599.6,396.1 618.7,399.8 628.3,404.4 638.1,408.8 650.5,415.2 661.9,422.2 672.8,431 684.1,432.7 704.6,433.7" fill="none" stroke="#c2242f" stroke-width="1.4" stroke-linejoin="round"/>
<rect x="427" y="373.3" width="5" height="5" fill="#fff" stroke="#c2242f" stroke-width="1.15"/>
<rect x="480.6" y="376" width="5" height="5" fill="#fff" stroke="#c2242f" stroke-width="1.15"/>
<rect x="501.5" y="375.6" width="5" height="5" fill="#fff" stroke="#c2242f" stroke-width="1.15"/>
<rect x="524.6" y="377.8" width="5" height="5" fill="#fff" stroke="#c2242f" stroke-width="1.15"/>
<rect x="544.1" y="379.4" width="5" height="5" fill="#fff" stroke="#c2242f" stroke-width="1.15"/>
<rect x="564.1" y="380.4" width="5" height="5" fill="#fff" stroke="#c2242f" stroke-width="1.15"/>
<rect x="581.9" y="386.5" width="5" height="5" fill="#fff" stroke="#c2242f" stroke-width="1.15"/>
<rect x="597.1" y="393.6" width="5" height="5" fill="#fff" stroke="#c2242f" stroke-width="1.15"/>
<rect x="616.2" y="397.3" width="5" height="5" fill="#fff" stroke="#c2242f" stroke-width="1.15"/>
<rect x="625.8" y="401.9" width="5" height="5" fill="#fff" stroke="#c2242f" stroke-width="1.15"/>
<rect x="635.6" y="406.3" width="5" height="5" fill="#fff" stroke="#c2242f" stroke-width="1.15"/>
<rect x="648" y="412.7" width="5" height="5" fill="#fff" stroke="#c2242f" stroke-width="1.15"/>
<rect x="659.4" y="419.7" width="5" height="5" fill="#fff" stroke="#c2242f" stroke-width="1.15"/>
<rect x="670.3" y="428.5" width="5" height="5" fill="#fff" stroke="#c2242f" stroke-width="1.15"/>
<rect x="681.6" y="430.2" width="5" height="5" fill="#fff" stroke="#c2242f" stroke-width="1.15"/>
<rect x="702.1" y="431.2" width="5" height="5" fill="#fff" stroke="#c2242f" stroke-width="1.15"/>
<text x="0" y="16" font-size="20" font-weight="bold" text-anchor="start" fill="#000">a</text>
<text x="384.6" y="15.6" font-size="19.5" font-weight="bold" text-anchor="start" fill="#000">b</text>
<text x="0" y="269" font-size="20" font-weight="bold" text-anchor="start" fill="#000">c</text>
<text x="384.4" y="268.5" font-size="19.5" font-weight="bold" text-anchor="start" fill="#000">d</text>
<text transform="translate(34.4 208.6) scale(0.94 1)" font-size="10.1" font-weight="bold" text-anchor="end" fill="#000">0.0</text>
<text transform="translate(34.4 163.85) scale(0.94 1)" font-size="10.1" font-weight="bold" text-anchor="end" fill="#000">0.1</text>
<text transform="translate(34.4 119.1) scale(0.94 1)" font-size="10.1" font-weight="bold" text-anchor="end" fill="#000">0.2</text>
<text transform="translate(34.4 74.35) scale(0.94 1)" font-size="10.1" font-weight="bold" text-anchor="end" fill="#000">0.3</text>
<text transform="translate(34.4 29.6) scale(0.94 1)" font-size="10.1" font-weight="bold" text-anchor="end" fill="#000">0.4</text>
<text transform="translate(323.8 208.6) scale(0.94 1)" font-size="10.1" font-weight="bold" text-anchor="start" fill="#000">0.0</text>
<text transform="translate(323.8 175.1) scale(0.94 1)" font-size="10.1" font-weight="bold" text-anchor="start" fill="#000">0.2</text>
<text transform="translate(323.8 141.6) scale(0.94 1)" font-size="10.1" font-weight="bold" text-anchor="start" fill="#000">0.4</text>
<text transform="translate(323.8 108.1) scale(0.94 1)" font-size="10.1" font-weight="bold" text-anchor="start" fill="#000">0.6</text>
<text transform="translate(323.8 74.6) scale(0.94 1)" font-size="10.1" font-weight="bold" text-anchor="start" fill="#000">0.8</text>
<text transform="translate(323.8 41.1) scale(0.94 1)" font-size="10.1" font-weight="bold" text-anchor="start" fill="#000">1.0</text>
<text transform="translate(323.8 7.6) scale(0.94 1)" font-size="10.1" font-weight="bold" text-anchor="start" fill="#000">1.2</text>
<text transform="translate(39.3 217.8) scale(0.94 1)" font-size="10.1" font-weight="bold" text-anchor="middle" fill="#000">0</text>
<text transform="translate(110.5 217.8) scale(0.94 1)" font-size="10.1" font-weight="bold" text-anchor="middle" fill="#000">50</text>
<text transform="translate(182.5 217.8) scale(0.94 1)" font-size="10.1" font-weight="bold" text-anchor="middle" fill="#000">100</text>
<text transform="translate(254.5 217.8) scale(0.94 1)" font-size="10.1" font-weight="bold" text-anchor="middle" fill="#000">150</text>
<text transform="translate(294 217.8) scale(0.94 1)" font-size="10.1" font-weight="bold" text-anchor="middle" fill="#000">240</text>
<text transform="translate(318.5 217.8) scale(0.94 1)" font-size="10.1" font-weight="bold" text-anchor="middle" fill="#000">260</text>
<text x="179.2" y="237.6" font-size="12" font-weight="bold" text-anchor="middle" fill="#000">Time (h)</text>
<text transform="translate(9.6 150.9) rotate(-90) scale(0.96 1)" font-size="12.8" font-weight="bold" text-anchor="start" fill="#000">OD (660 nm)</text>
<line x1="3.8" y1="157" x2="3.8" y2="165.5" stroke="#000" stroke-width="1.6"/>
<text x="352.2" y="150.8" font-size="11.6" font-weight="bold" text-anchor="start" fill="#000" transform="rotate(-90 352.2 150.8)"><tspan font-style="italic">p</tspan>-Ethylphenol (mM)</text>
<line x1="347.8" y1="156" x2="347.8" y2="164.6" stroke="#2c4098" stroke-width="1.8"/>
<text transform="translate(424.9 208.2) scale(0.97 1)" font-size="9.8" font-weight="bold" text-anchor="end" fill="#000">0.0</text>
<text transform="translate(424.9 161.2) scale(0.97 1)" font-size="9.8" font-weight="bold" text-anchor="end" fill="#000">0.2</text>
<text transform="translate(424.9 114.2) scale(0.97 1)" font-size="9.8" font-weight="bold" text-anchor="end" fill="#000">0.4</text>
<text transform="translate(424.9 67.2) scale(0.97 1)" font-size="9.8" font-weight="bold" text-anchor="end" fill="#000">0.6</text>
<text transform="translate(424.9 20.2) scale(0.97 1)" font-size="9.8" font-weight="bold" text-anchor="end" fill="#000">0.8</text>
<text transform="translate(715.2 208.2) scale(0.97 1)" font-size="9.8" font-weight="bold" text-anchor="start" fill="#000">0</text>
<text transform="translate(715.2 168.2) scale(0.97 1)" font-size="9.8" font-weight="bold" text-anchor="start" fill="#000">1</text>
<text transform="translate(715.2 128.2) scale(0.97 1)" font-size="9.8" font-weight="bold" text-anchor="start" fill="#000">2</text>
<text transform="translate(715.2 88.2) scale(0.97 1)" font-size="9.8" font-weight="bold" text-anchor="start" fill="#000">3</text>
<text transform="translate(715.2 48.2) scale(0.97 1)" font-size="9.8" font-weight="bold" text-anchor="start" fill="#000">4</text>
<text transform="translate(715.2 8.2) scale(0.97 1)" font-size="9.8" font-weight="bold" text-anchor="start" fill="#000">5</text>
<text transform="translate(429.6 218.2) scale(0.97 1)" font-size="9.8" font-weight="bold" text-anchor="middle" fill="#000">0</text>
<text transform="translate(485.2 218.2) scale(0.97 1)" font-size="9.8" font-weight="bold" text-anchor="middle" fill="#000">10</text>
<text transform="translate(540.8 218.2) scale(0.97 1)" font-size="9.8" font-weight="bold" text-anchor="middle" fill="#000">20</text>
<text transform="translate(596.4 218.2) scale(0.97 1)" font-size="9.8" font-weight="bold" text-anchor="middle" fill="#000">30</text>
<text transform="translate(652 218.2) scale(0.97 1)" font-size="9.8" font-weight="bold" text-anchor="middle" fill="#000">40</text>
<text transform="translate(707.6 218.2) scale(0.97 1)" font-size="9.8" font-weight="bold" text-anchor="middle" fill="#000">50</text>
<text x="568.6" y="238.7" font-size="12.8" font-weight="normal" text-anchor="middle" fill="#000">Time (h)</text>
<text transform="translate(401 150.9) rotate(-90) scale(0.926 1)" font-size="13.6" font-weight="normal" text-anchor="start" fill="#000">OD (660 nm)</text>
<line x1="396.2" y1="157" x2="396.2" y2="165.8" stroke="#000" stroke-width="1.4"/>
<text transform="translate(741 148.6) rotate(-90) scale(0.926 1)" font-size="13.6" font-weight="normal" text-anchor="start" fill="#000">Benzoate (mM)</text>
<line x1="733.6" y1="156.5" x2="733.6" y2="165" stroke="#0e8250" stroke-width="1.9"/>
<text transform="translate(34.2 459.7) scale(0.94 1)" font-size="10.1" font-weight="bold" text-anchor="end" fill="#000">0.0</text>
<text transform="translate(34.2 402.6) scale(0.94 1)" font-size="10.1" font-weight="bold" text-anchor="end" fill="#000">0.1</text>
<text transform="translate(34.2 345.3) scale(0.94 1)" font-size="10.1" font-weight="bold" text-anchor="end" fill="#000">0.2</text>
<text transform="translate(34.2 288) scale(0.94 1)" font-size="10.1" font-weight="bold" text-anchor="end" fill="#000">0.3</text>
<text transform="translate(322.6 459.7) scale(0.94 1)" font-size="10.1" font-weight="bold" text-anchor="start" fill="#000">0.0</text>
<text transform="translate(322.6 419.5) scale(0.94 1)" font-size="10.1" font-weight="bold" text-anchor="start" fill="#000">0.5</text>
<text transform="translate(322.6 379.7) scale(0.94 1)" font-size="10.1" font-weight="bold" text-anchor="start" fill="#000">1.0</text>
<text transform="translate(322.6 339.8) scale(0.94 1)" font-size="10.1" font-weight="bold" text-anchor="start" fill="#000">1.5</text>
<text transform="translate(322.6 299.6) scale(0.94 1)" font-size="10.1" font-weight="bold" text-anchor="start" fill="#000">2.0</text>
<text transform="translate(322.6 259.4) scale(0.94 1)" font-size="10.1" font-weight="bold" text-anchor="start" fill="#000">2.5</text>
<text transform="translate(39 469) scale(0.94 1)" font-size="10.1" font-weight="bold" text-anchor="middle" fill="#000">0</text>
<text transform="translate(110.4 469) scale(0.94 1)" font-size="10.1" font-weight="bold" text-anchor="middle" fill="#000">50</text>
<text transform="translate(181.9 469) scale(0.94 1)" font-size="10.1" font-weight="bold" text-anchor="middle" fill="#000">100</text>
<text transform="translate(253.3 469) scale(0.94 1)" font-size="10.1" font-weight="bold" text-anchor="middle" fill="#000">150</text>
<text transform="translate(293.4 469) scale(0.94 1)" font-size="10.1" font-weight="bold" text-anchor="middle" fill="#000">240</text>
<text transform="translate(318.4 469) scale(0.94 1)" font-size="10.1" font-weight="bold" text-anchor="middle" fill="#000">260</text>
<text x="178.7" y="489" font-size="12.2" font-weight="bold" text-anchor="middle" fill="#000">Time (h)</text>
<text transform="translate(9.4 405.3) rotate(-90) scale(0.96 1)" font-size="12.7" font-weight="bold" text-anchor="start" fill="#000">OD (660 nm)</text>
<line x1="4.9" y1="413" x2="4.9" y2="422.4" stroke="#000" stroke-width="1.6"/>
<text transform="translate(350.1 405) rotate(-90) scale(0.9 1)" font-size="13" font-weight="bold" text-anchor="start" fill="#000"><tspan font-style="italic">p</tspan>-Hydroxyaceto-</text>
<text x="364.1" y="405.2" font-size="12" font-weight="bold" text-anchor="start" fill="#000" transform="rotate(-90 364.1 405.2)">phenone (mM)</text>
<line x1="353" y1="413" x2="353" y2="422.1" stroke="#c2242f" stroke-width="1.9"/>
<text transform="translate(424.9 459.2) scale(0.97 1)" font-size="9.8" font-weight="bold" text-anchor="end" fill="#000">0.0</text>
<text transform="translate(424.9 411.9) scale(0.97 1)" font-size="9.8" font-weight="bold" text-anchor="end" fill="#000">0.2</text>
<text transform="translate(424.9 364.5) scale(0.97 1)" font-size="9.8" font-weight="bold" text-anchor="end" fill="#000">0.4</text>
<text transform="translate(424.9 317.1) scale(0.97 1)" font-size="9.8" font-weight="bold" text-anchor="end" fill="#000">0.6</text>
<text transform="translate(424.9 269.7) scale(0.97 1)" font-size="9.8" font-weight="bold" text-anchor="end" fill="#000">0.8</text>
<text transform="translate(714.6 458.7) scale(0.97 1)" font-size="9.8" font-weight="bold" text-anchor="start" fill="#000">0</text>
<text transform="translate(714.6 418.5) scale(0.97 1)" font-size="9.8" font-weight="bold" text-anchor="start" fill="#000">1</text>
<text transform="translate(714.6 378.3) scale(0.97 1)" font-size="9.8" font-weight="bold" text-anchor="start" fill="#000">2</text>
<text transform="translate(714.6 338.2) scale(0.97 1)" font-size="9.8" font-weight="bold" text-anchor="start" fill="#000">3</text>
<text transform="translate(714.6 298.1) scale(0.97 1)" font-size="9.8" font-weight="bold" text-anchor="start" fill="#000">4</text>
<text transform="translate(714.6 257.9) scale(0.97 1)" font-size="9.8" font-weight="bold" text-anchor="start" fill="#000">5</text>
<text transform="translate(429.7 469.3) scale(0.97 1)" font-size="9.8" font-weight="bold" text-anchor="middle" fill="#000">0</text>
<text transform="translate(485.8 469.3) scale(0.97 1)" font-size="9.8" font-weight="bold" text-anchor="middle" fill="#000">10</text>
<text transform="translate(541.9 469.3) scale(0.97 1)" font-size="9.8" font-weight="bold" text-anchor="middle" fill="#000">20</text>
<text transform="translate(598.1 469.3) scale(0.97 1)" font-size="9.8" font-weight="bold" text-anchor="middle" fill="#000">30</text>
<text transform="translate(654.2 469.3) scale(0.97 1)" font-size="9.8" font-weight="bold" text-anchor="middle" fill="#000">40</text>
<text transform="translate(710.3 469.3) scale(0.97 1)" font-size="9.8" font-weight="bold" text-anchor="middle" fill="#000">50</text>
<text x="570.3" y="490.1" font-size="12.8" font-weight="normal" text-anchor="middle" fill="#000">Time (h)</text>
<text transform="translate(401 405) rotate(-90) scale(0.926 1)" font-size="13.7" font-weight="normal" text-anchor="start" fill="#000">OD (660 nm)</text>
<line x1="396.2" y1="413" x2="396.2" y2="421.6" stroke="#000" stroke-width="1.4"/>
<text transform="translate(740.8 405) rotate(-90) scale(0.926 1)" font-size="13.8" font-weight="normal" text-anchor="start" fill="#000">Benzoate (mM)</text>
<line x1="735" y1="412.8" x2="735" y2="421.8" stroke="#0e8250" stroke-width="1.9"/>
<text transform="translate(759.2 404.8) rotate(-90) scale(0.926 1)" font-size="13.7" font-weight="normal" text-anchor="start" fill="#000"><tspan font-style="italic">p</tspan>-Hydroxyaceto-</text>
<text transform="translate(772.6 404.2) rotate(-90) scale(0.926 1)" font-size="13.8" font-weight="normal" text-anchor="start" fill="#000">phenone (mM)</text>
<line x1="762.3" y1="412.5" x2="762.3" y2="421.2" stroke="#c2242f" stroke-width="1.9"/>
</svg>
</body></html>
